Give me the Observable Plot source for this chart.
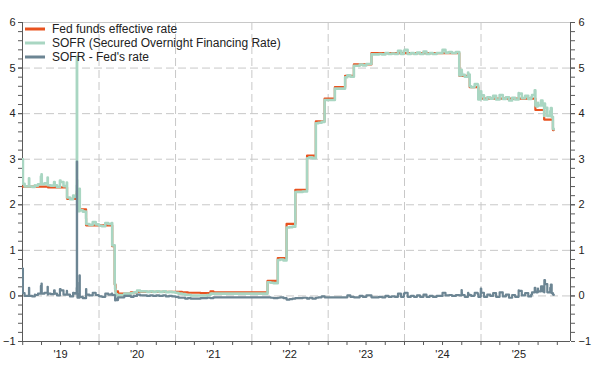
<!DOCTYPE html>
<html>
<head>
<meta charset="utf-8">
<script src="https://cdn.jsdelivr.net/npm/d3@7"></script>
<script src="https://cdn.jsdelivr.net/npm/@observablehq/plot@0.6"></script>
<style>
  html, body { margin: 0; padding: 0; background: #fff; }
  #chart { width: 594px; height: 369px; position: relative; }
  svg { font-family: "Liberation Sans", Arial, sans-serif; }
</style>
</head>
<body>
<div id="chart"></div>
<script>
// ---- Data ----
const seriesNames = ["Fed funds effective rate", "SOFR (Secured Overnight Financing Rate)", "SOFR - Fed's rate"];
const seriesColors = ["#e8521f", "#a9d6c2", "#6c8593"];

// Fed funds effective rate: dates of level changes and levels
const effrDates = [
  "2018-12-31","2019-05-02","2019-08-01","2019-09-16","2019-09-17","2019-09-18","2019-09-19","2019-10-31",
  "2020-03-04","2020-03-16","2020-03-20","2020-04-01","2020-06-01","2020-07-01",
  "2021-02-01","2021-03-01","2021-05-01","2021-06-17","2021-07-01",
  "2022-03-17","2022-05-05","2022-06-16","2022-07-28","2022-09-22","2022-11-03","2022-12-15",
  "2023-02-02","2023-03-23","2023-05-04","2023-07-27",
  "2024-09-19","2024-11-08","2024-12-19",
  "2025-09-18","2025-10-30","2025-12-11","2025-12-15"
];
const effrValues = [
  2.40,2.38,2.13,2.25,2.30,2.25,1.90,1.55,
  1.09,0.25,0.10,0.05,0.08,0.09,
  0.08,0.07,0.06,0.10,0.08,
  0.33,0.83,1.58,2.33,3.08,3.83,4.33,
  4.58,4.83,5.08,5.33,
  4.83,4.58,4.33,
  4.08,3.87,3.64,3.64
];

// SOFR observations
const sofrDates = [
  "2018-12-31","2019-01-02","2019-01-10","2019-01-31","2019-02-01","2019-02-15","2019-02-28","2019-03-01","2019-03-15","2019-03-29",
  "2019-04-01","2019-04-02","2019-04-15","2019-04-30","2019-05-01","2019-05-15","2019-05-31","2019-06-03","2019-06-14","2019-06-28",
  "2019-07-01","2019-07-15","2019-07-31","2019-08-01","2019-08-15","2019-08-30","2019-09-03","2019-09-12","2019-09-16","2019-09-17",
  "2019-09-18","2019-09-19","2019-09-20","2019-09-30","2019-10-01","2019-10-15","2019-10-31","2019-11-01","2019-11-15","2019-12-02",
  "2019-12-16","2019-12-31",
  "2020-01-02","2020-01-15","2020-01-31","2020-02-14","2020-02-28","2020-03-02","2020-03-04","2020-03-16","2020-03-18","2020-03-20",
  "2020-03-26","2020-04-01","2020-04-15","2020-05-01","2020-05-15","2020-06-01","2020-06-15","2020-07-01","2020-07-15","2020-08-03",
  "2020-08-17","2020-09-01","2020-09-15","2020-10-01","2020-10-15","2020-11-02","2020-11-16","2020-12-01","2020-12-15","2020-12-31",
  "2021-01-15","2021-02-01","2021-02-16","2021-03-01","2021-03-15","2021-04-01","2021-04-15","2021-05-03","2021-05-17","2021-06-01",
  "2021-06-17","2021-07-01","2021-08-02","2021-09-01","2021-10-01","2021-11-01","2021-12-01","2021-12-31",
  "2022-01-14","2022-02-01","2022-03-01","2022-03-17","2022-04-01","2022-04-15","2022-05-05","2022-05-16","2022-06-01","2022-06-16",
  "2022-07-01","2022-07-15","2022-07-28","2022-08-15","2022-09-01","2022-09-15","2022-09-22","2022-10-03","2022-10-17","2022-11-03",
  "2022-11-15","2022-12-01","2022-12-15","2022-12-30",
  "2023-01-13","2023-02-02","2023-02-15","2023-03-01","2023-03-23","2023-04-03","2023-04-17","2023-05-04","2023-05-15","2023-06-01",
  "2023-06-15","2023-07-03","2023-07-27","2023-08-15","2023-09-01","2023-09-15","2023-10-02","2023-10-16","2023-11-01","2023-11-15",
  "2023-12-01","2023-12-15","2023-12-29",
  "2024-01-02","2024-01-16","2024-02-01","2024-02-15","2024-03-01","2024-03-15","2024-04-01","2024-04-15","2024-05-01","2024-05-15",
  "2024-06-03","2024-06-14","2024-07-01","2024-07-15","2024-08-01","2024-08-15","2024-09-03","2024-09-18","2024-09-19","2024-09-25",
  "2024-09-30","2024-10-01","2024-10-02","2024-10-15","2024-10-31","2024-11-01","2024-11-08","2024-11-15","2024-11-29","2024-12-02",
  "2024-12-16","2024-12-19","2024-12-31",
  "2025-01-02","2025-01-15","2025-01-31","2025-02-14","2025-02-28","2025-03-14","2025-03-31","2025-04-15","2025-04-30","2025-05-15",
  "2025-05-30","2025-06-13","2025-06-30","2025-07-01","2025-07-15","2025-07-31","2025-08-15","2025-08-29","2025-09-02","2025-09-15",
  "2025-09-18","2025-09-22","2025-09-30","2025-10-01","2025-10-15","2025-10-22","2025-10-30","2025-10-31","2025-11-03","2025-11-14",
  "2025-11-28","2025-12-01","2025-12-05","2025-12-11","2025-12-15"
];
const sofrValues = [
  3.00,2.46,2.40,2.58,2.40,2.39,2.43,2.42,2.45,2.62,
  2.67,2.45,2.47,2.60,2.43,2.42,2.50,2.43,2.39,2.53,
  2.50,2.41,2.49,2.16,2.12,2.20,2.18,2.20,2.43,5.25,
  2.55,1.95,1.86,2.35,1.88,1.85,1.70,1.58,1.56,1.62,
  1.57,1.55,
  1.54,1.53,1.60,1.58,1.59,1.60,1.11,0.26,0.15,0.04,
  0.01,0.02,0.02,0.05,0.05,0.06,0.08,0.12,0.10,0.10,
  0.09,0.10,0.09,0.10,0.09,0.10,0.08,0.09,0.08,0.07,
  0.05,0.04,0.02,0.02,0.01,0.01,0.01,0.01,0.01,0.02,
  0.05,0.05,0.05,0.05,0.05,0.05,0.05,0.05,
  0.05,0.05,0.05,0.30,0.29,0.28,0.79,0.80,0.78,1.50,
  1.51,1.52,2.28,2.28,2.29,2.29,3.02,3.04,3.02,3.79,
  3.80,3.82,4.30,4.30,
  4.30,4.55,4.55,4.55,4.80,4.84,4.81,5.05,5.05,5.08,
  5.06,5.09,5.30,5.30,5.31,5.30,5.33,5.31,5.32,5.31,
  5.38,5.31,5.38,
  5.40,5.31,5.33,5.31,5.34,5.31,5.36,5.31,5.33,5.31,
  5.33,5.33,5.40,5.34,5.35,5.33,5.35,5.35,4.84,4.84,
  4.96,4.90,4.85,4.81,4.90,4.86,4.60,4.58,4.59,4.65,
  4.62,4.31,4.49,
  4.40,4.31,4.36,4.33,4.39,4.31,4.41,4.32,4.36,4.29,
  4.35,4.31,4.45,4.44,4.34,4.39,4.32,4.36,4.41,4.51,
  4.18,4.16,4.24,4.18,4.29,4.18,3.95,4.22,4.13,3.95,
  4.05,4.12,3.93,3.67,3.66
];

// Axis ticks and labels
const yTicks = [-1, 0, 1, 2, 3, 4, 5, 6];
const yGrid = [0, 1, 2, 3, 4, 5];
const yearLabels = ["'19", "'20", "'21", "'22", "'23", "'24", "'25"];
const yearStarts = ["2020-01-01","2021-01-01","2022-01-01","2023-01-01","2024-01-01","2025-01-01"];
const xDomain = ["2018-12-31", "2026-03-05"];

// ---- Build tables ----
const parse = d3.utcParse("%Y-%m-%d");
const effr = effrDates.map((d, i) => ({date: parse(d), value: effrValues[i]}));
const sofr = sofrDates.map((d, i) => ({date: parse(d), value: sofrValues[i]}));
const bis = d3.bisector(d => d.date).right;
const at = (arr, t) => arr[Math.max(0, bis(arr, t) - 1)].value;
const allDates = Array.from(new Set([...effrDates, ...sofrDates])).sort().map(parse);
const spread = allDates.map(t => ({date: t, value: at(sofr, t) - at(effr, t)}));

const x0 = parse(xDomain[0]), x1 = parse(xDomain[1]);
const minorY = d3.range(-5, 31).map(i => i / 5);
const quarters = d3.utcMonth.every(3).range(x0, x1);
const midYears = yearLabels.map((s, i) => new Date(Date.UTC(2019 + i, 6, 1)));

const axisColor = "#5a5a5a";
const gridColor = "#c8c8c8";

const chart = Plot.plot({
  width: 594,
  height: 369,
  marginLeft: 22,
  marginRight: 24,
  marginTop: 22,
  marginBottom: 28,
  style: {fontFamily: "'Liberation Sans', Arial, sans-serif", fontSize: "11px", color: "#222", background: "#fff"},
  x: {type: "utc", domain: [x0, x1]},
  y: {domain: [-1, 6]},
  marks: [
    Plot.ruleY(yGrid, {stroke: gridColor, strokeDasharray: "8,4", strokeWidth: 1}),
    Plot.ruleX(yearStarts.map(parse), {stroke: gridColor, strokeDasharray: "8,4", strokeWidth: 1}),
    Plot.ruleY([6], {stroke: gridColor, strokeWidth: 1}),
    // axes
    Plot.axisY(minorY, {anchor: "left", label: null, tickSize: 4, tickFormat: () => "", stroke: axisColor}),
    Plot.axisY(minorY, {anchor: "right", label: null, tickSize: 4, tickFormat: () => "", stroke: axisColor}),
    Plot.axisY(yTicks, {anchor: "left", label: null, tickSize: 4, tickPadding: 3, stroke: axisColor, fill: "#222", fontSize: 11}),
    Plot.axisY(yTicks, {anchor: "right", label: null, tickSize: 4, tickPadding: 4, stroke: axisColor, fill: "#222", fontSize: 11}),
    Plot.axisX(quarters, {anchor: "bottom", label: null, tickSize: 4, tickFormat: () => "", stroke: axisColor}),
    Plot.axisX(midYears, {anchor: "bottom", label: null, tickSize: 0, tickPadding: 9, tickFormat: (d) => yearLabels[d.getUTCFullYear() - 2019], fill: "#222", fontSize: 11}),
    Plot.ruleX([x0, x1], {stroke: axisColor, strokeWidth: 1}),
    Plot.ruleY([-1], {stroke: axisColor, strokeWidth: 1}),
    // series
    Plot.line(effr, {x: "date", y: "value", curve: "step-after", stroke: seriesColors[0], strokeWidth: 2.2, clip: true}),
    Plot.line(sofr, {x: "date", y: "value", curve: "step-after", stroke: seriesColors[1], strokeWidth: 2.6, clip: true}),
    Plot.line(spread, {x: "date", y: "value", curve: "step-after", stroke: seriesColors[2], strokeWidth: 2.2, clip: true})
  ]
});

// legend inside the plot, top-left
const svg = d3.select(chart);
const lg = svg.append("g")
  .attr("font-family", "'Liberation Sans', Arial, sans-serif")
  .attr("font-size", 12)
  .attr("fill", "#222")
  .attr("text-anchor", "start");
seriesNames.forEach((name, i) => {
  const y = 29 + i * 14;
  lg.append("line").attr("x1", 25).attr("x2", 45).attr("y1", y).attr("y2", y)
    .attr("stroke", seriesColors[i]).attr("stroke-width", 3);
  lg.append("text").attr("x", 52).attr("y", y).attr("dy", "0.35em")
    .attr("text-anchor", "start").text(name);
});

document.getElementById("chart").appendChild(chart);
</script>
</body>
</html>
